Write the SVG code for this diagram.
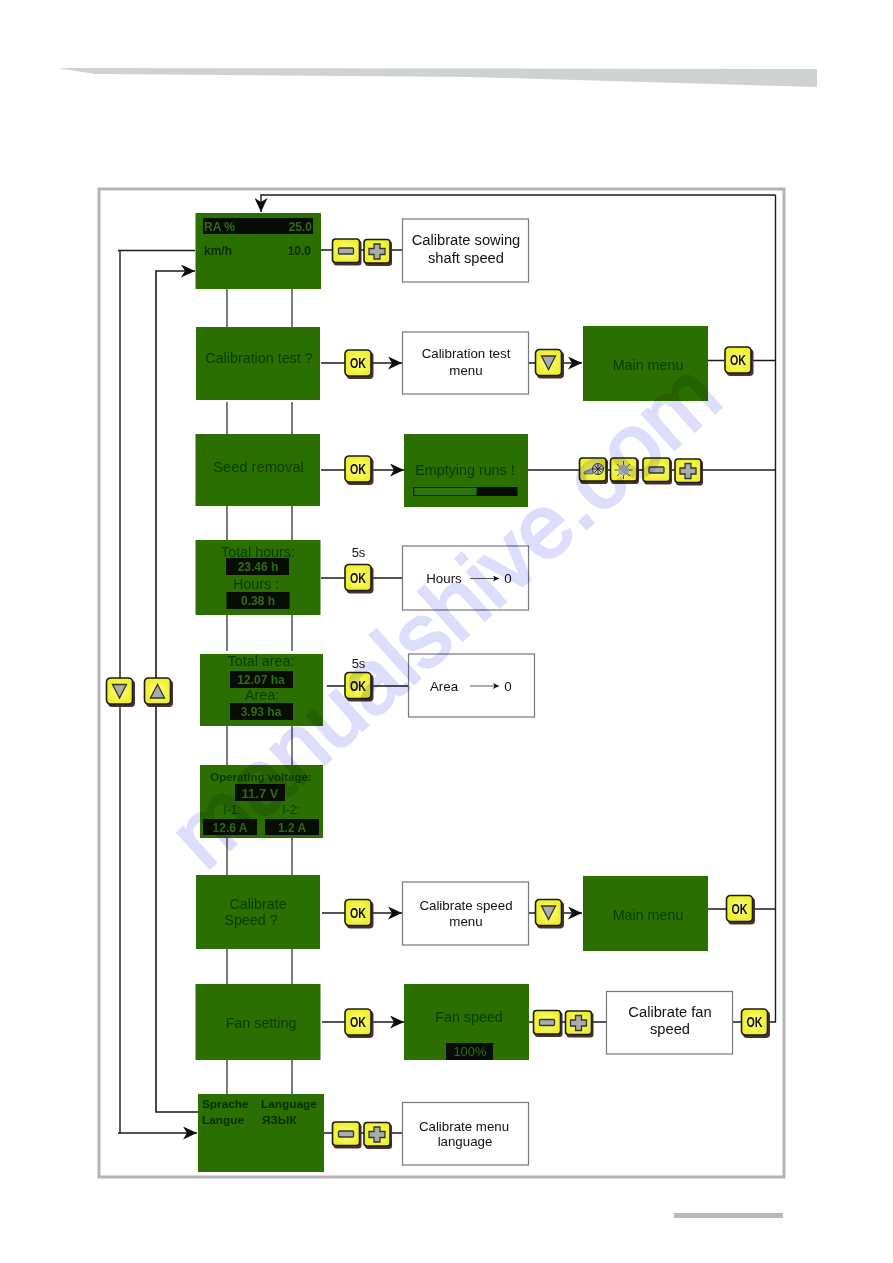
<svg xmlns="http://www.w3.org/2000/svg" width="893" height="1263" viewBox="0 0 893 1263">
<style>
.lcd{fill:#2b6f00}
.box{fill:#fff;stroke:#77777d;stroke-width:1.2}
.t{font-family:"Liberation Sans",Arial,sans-serif;text-anchor:middle;fill:#111}
.w{font-size:14.700px}
.m{font-size:13.300px}
.d{font-size:14.300px;fill:#0d3b02}
.b{font-size:11.500px;font-weight:bold;fill:#0a2e00}
.v{font-size:12px;font-weight:bold;fill:#2f6c14}
.k{fill:#070d05}
.c{fill:none;stroke:#1a1a1a;stroke-width:1.4}
.g{fill:none;stroke:#444;stroke-width:1.4}
.btn{fill:url(#y);stroke:#1c1c14;stroke-width:1.6}
.sh{fill:#4a3230}
.ok{font-family:"Liberation Sans",Arial,sans-serif;font-size:14px;font-weight:bold;text-anchor:middle;fill:#111}
.ic{fill:#a9adaa;stroke:#33352c;stroke-width:1.3}
.wm{font-family:"Liberation Sans",Arial,sans-serif;font-size:90px;fill:#dddefb;stroke:#dddefb;stroke-width:3;mix-blend-mode:multiply}
</style>
<defs>
<radialGradient id="y"><stop offset="0" stop-color="#ffff8c"/><stop offset="1" stop-color="#eef02a"/></radialGradient>
<marker id="a" markerUnits="userSpaceOnUse" markerWidth="15" markerHeight="13" refX="14" refY="6.500" orient="auto"><path d="M0,0 L14,6.500 L0,13 L4,6.500 z" fill="#0c0c0c"/></marker>
<marker id="s" markerUnits="userSpaceOnUse" markerWidth="7" markerHeight="7" refX="6" refY="3" orient="auto"><path d="M0,0 L6,3 L0,6 L1.500,3 z" fill="#111"/></marker>
<g id="bok"><rect class="sh" x="1.500" y="2" width="27" height="27" rx="4"/><rect class="btn" width="26" height="26" rx="4"/><text class="ok" x="13" y="18" textLength="16" lengthAdjust="spacingAndGlyphs">OK</text></g>
<g id="bmin"><rect class="sh" x="1" y="1.500" width="28" height="25" rx="3"/><rect class="btn" width="27" height="23.500" rx="3"/><rect class="ic" x="6" y="9" width="15" height="6" rx="1"/></g>
<g id="bpl"><rect class="sh" x="1" y="1.500" width="27" height="25" rx="3"/><rect class="btn" width="26" height="23.500" rx="3"/><path class="ic" d="M10,4.500h6v4.500h5v6h-5v4.500h-6v-4.500h-5v-6h5z"/></g>
<g id="bdn"><rect class="sh" x="1.500" y="2" width="27" height="27" rx="4"/><rect class="btn" width="26" height="26" rx="4"/><path class="ic" d="M6,6.500H20L13,20z" stroke-width="2"/></g>
<g id="bup"><rect class="sh" x="1.500" y="2" width="27" height="27" rx="4"/><rect class="btn" width="26" height="26" rx="4"/><path class="ic" d="M6,20H20L13,6.500z" stroke-width="2"/></g>
</defs>
<rect width="893" height="1263" fill="#fff"/>
<path d="M58,68 L817,69 V87 L470,77 L95,74 Z" fill="#cfd2d2"/>
<rect x="99" y="189" width="685" height="988" fill="#fff" stroke="#b4b4b4" stroke-width="3"/>
<rect x="674" y="1213" width="109" height="5" fill="#b9b9b9"/>

<g id="connectors">
<path class="c" d="M775.500,195 H261 V212" marker-end="url(#a)"/>
<path class="c" d="M775.500,195 V1022 H768"/>
<path class="c" d="M751,360.500 H775.500 M528,470 H775.500 M751,909 H775.500"/>
<path class="c" d="M195,250.500 H118 M120,250.500 V1133 M118,1133 H197" marker-end="url(#a)"/>
<path class="c" style="stroke-width:1.600" d="M198,1112 H156 V271 H195" marker-end="url(#a)"/>
<path class="g" d="M227,289V327 M292,289V327 M227,402V434 M292,402V434 M227,506V540 M292,506V540 M227,615V651 M292,615V651 M227,726V765 M292,726V765 M227,838V875 M292,838V875 M227,949V984 M292,949V984 M227,1060V1094 M292,1060V1094"/>
<path class="c" d="M321,250H403"/>
<path class="c" d="M321,363H402" marker-end="url(#a)"/>
<path class="c" d="M321,470H404" marker-end="url(#a)"/>
<path class="c" d="M321,578H403 M327,686H409"/>
<path class="c" d="M322,913H402" marker-end="url(#a)"/>
<path class="c" d="M322,1022H404" marker-end="url(#a)"/>
<path class="c" d="M324,1133H403"/>
<path class="c" d="M529,363H582" marker-end="url(#a)"/>
<path class="c" d="M529,913H582" marker-end="url(#a)"/>
<path class="c" d="M708,360.500H724 M708,909H726 M529,1022H606 M732,1022H742"/>
</g>

<g id="n-ra"><rect class="lcd" x="195.500" y="213" width="125.500" height="76"/><rect class="k" x="203" y="218" width="110" height="16"/><text class="t v" style="text-anchor:start" x="204" y="231">RA %</text><text class="t v" style="text-anchor:end" x="312" y="231">25.0</text><text class="t b" style="text-anchor:start;font-size:12px" x="204" y="255">km/h</text><text class="t b" style="text-anchor:end;font-size:12px" x="311" y="255">10.0</text></g>
<g id="n-btn1"><use href="#bmin" x="332.500" y="239"/><use href="#bpl" x="364" y="239.500"/></g>
<g id="n-cal1"><rect class="box" x="402.500" y="219" width="126" height="63"/><text class="t w" x="466" y="245">Calibrate sowing</text><text class="t w" x="466" y="263">shaft speed</text></g>

<g id="n-caltest"><rect class="lcd" x="196" y="327" width="124" height="73"/><text class="t d" x="259" y="363">Calibration test ?</text></g>
<g id="n-ok1"><use href="#bok" x="345" y="350"/></g>
<g id="n-ctm"><rect class="box" x="402.500" y="332" width="126" height="62"/><text class="t m" x="466" y="358">Calibration test</text><text class="t m" x="466" y="375">menu</text></g>
<g id="n-dn1"><use href="#bdn" x="535.500" y="349.500"/></g>
<g id="n-main1"><rect class="lcd" x="583" y="326" width="125" height="75"/><text class="t d" x="648" y="370">Main menu</text></g>
<g id="n-ok2"><use href="#bok" x="725" y="347"/></g>

<g id="n-seed"><rect class="lcd" x="195.500" y="434" width="124.500" height="72"/><text class="t d" style="font-size:14.700px" x="258.500" y="472">Seed removal</text></g>
<g id="n-ok3"><use href="#bok" x="345" y="456"/></g>
<g id="n-empty"><rect class="lcd" x="404" y="434" width="124" height="73"/><text class="t d" x="465" y="475">Emptying runs !</text><rect x="413.500" y="487" width="104" height="9" class="k"/><rect x="414" y="487.500" width="63" height="8" fill="#2f7310" stroke="#0c2a05" stroke-width=".8"/></g>
<g id="n-tools"><rect class="sh" x="580" y="459" width="28" height="25" rx="3"/><rect class="btn" x="579.500" y="458" width="26.500" height="23" rx="3"/><path d="M584,472l9,-4v6h-9z" fill="#8f9fb4" stroke="#444" stroke-width=".6"/><circle cx="598" cy="469" r="5.500" fill="#c8cdb0" stroke="#222" stroke-width=".9"/><path d="M593,469H603M598,464V474M594.500,465.500L601.500,472.500M601.500,465.500L594.500,472.500" stroke="#222" stroke-width=".9"/>
<rect class="sh" x="611" y="459" width="28" height="25" rx="3"/><rect class="btn" x="610.500" y="458" width="26.500" height="23" rx="3"/><path d="M623.500,461V479M614.500,470H632.500M617,464L630,476M630,464L617,476" stroke="#333" stroke-width=".9"/><circle cx="623.500" cy="470" r="5.500" fill="#a9adaa"/>
<use href="#bmin" x="643" y="458"/><use href="#bpl" x="675" y="459"/></g>

<g id="n-hours"><rect class="lcd" x="195.500" y="540" width="125" height="75"/><text class="t d" x="258" y="557">Total hours:</text><rect class="k" x="226" y="558" width="63" height="17"/><text class="t v" x="258" y="571">23.46 h</text><text class="t d" x="256" y="589">Hours :</text><rect class="k" x="226.500" y="592" width="63" height="17"/><text class="t v" x="258" y="605">0.38 h</text></g>
<g id="n-5s1"><text class="t" style="font-size:13px" x="358.500" y="557">5s</text><use href="#bok" x="345" y="564.500"/></g>
<g id="n-hrb"><rect class="box" x="402.500" y="546" width="126" height="64"/><text class="t m" x="444" y="583">Hours</text><path d="M470,578.500H499" stroke="#333" stroke-width=".8" marker-end="url(#s)"/><text class="t m" x="508" y="583">0</text></g>

<g id="n-area"><rect class="lcd" x="200" y="654" width="123" height="72"/><text class="t d" x="261" y="666">Total area:</text><rect class="k" x="230" y="671" width="63" height="17"/><text class="t v" x="261" y="684">12.07 ha</text><text class="t d" x="262" y="700">Area:</text><rect class="k" x="230" y="703" width="63" height="17"/><text class="t v" x="261" y="716">3.93 ha</text></g>
<g id="n-5s2"><text class="t" style="font-size:13px" x="358.500" y="668">5s</text><use href="#bok" x="345" y="672.500"/></g>
<g id="n-arb"><rect class="box" x="408.500" y="654" width="126" height="63"/><text class="t m" x="444" y="690.500">Area</text><path d="M470,686H499" stroke="#333" stroke-width=".8" marker-end="url(#s)"/><text class="t m" x="508" y="690.500">0</text></g>

<g id="n-volt"><rect class="lcd" x="200" y="765" width="123" height="73"/><text class="t" style="font-size:11.500px;font-weight:bold;fill:#0d3b02" x="261" y="781">Operating voltage:</text><rect class="k" x="235" y="784" width="50" height="17"/><text class="t v" x="260" y="798" style="font-size:13px">11.7 V</text><text class="t d" style="font-size:12px" x="232" y="814">I-1:</text><text class="t d" style="font-size:12px" x="291" y="814">I-2:</text><rect class="k" x="203" y="819" width="54" height="16"/><text class="t v" x="230" y="832">12.6 A</text><rect class="k" x="265" y="819" width="54" height="16"/><text class="t v" x="292" y="832">1.2 A</text></g>

<g id="n-calsp"><rect class="lcd" x="196" y="875" width="124" height="74"/><text class="t d" x="258" y="909">Calibrate</text><text class="t d" x="251" y="925">Speed ?</text></g>
<g id="n-ok4"><use href="#bok" x="345" y="899.500"/></g>
<g id="n-csm"><rect class="box" x="402.500" y="882" width="126" height="63"/><text class="t m" x="466" y="910">Calibrate speed</text><text class="t m" x="466" y="926">menu</text></g>
<g id="n-dn2"><use href="#bdn" x="535.500" y="899.500"/></g>
<g id="n-main2"><rect class="lcd" x="583" y="876" width="125" height="75"/><text class="t d" x="648" y="920">Main menu</text></g>
<g id="n-ok5"><use href="#bok" x="726.500" y="895.500"/></g>

<g id="n-fan"><rect class="lcd" x="195.500" y="984" width="125" height="76"/><text class="t d" x="261" y="1028">Fan setting</text></g>
<g id="n-ok6"><use href="#bok" x="345" y="1009"/></g>
<g id="n-fsp"><rect class="lcd" x="404" y="984" width="125" height="76"/><text class="t d" x="469" y="1022">Fan speed</text><rect class="k" x="446" y="1043" width="47" height="17"/><text class="t v" style="font-weight:normal;font-size:13px" x="470" y="1056">100%</text></g>
<g id="n-btn2"><use href="#bmin" x="533.500" y="1010.500"/><use href="#bpl" x="565.500" y="1011"/></g>
<g id="n-cfs"><rect class="box" x="606.500" y="991.500" width="126" height="62.500"/><text class="t w" x="670" y="1017">Calibrate fan</text><text class="t w" x="670" y="1034">speed</text></g>
<g id="n-ok7"><use href="#bok" x="741.500" y="1009"/></g>

<g id="n-lang"><rect class="lcd" x="198" y="1094" width="126" height="78"/><text class="t b" style="text-anchor:start;font-size:11.800px" x="202" y="1108">Sprache</text><text class="t b" style="text-anchor:start;font-size:11.800px" x="261" y="1108">Language</text><text class="t b" style="text-anchor:start;font-size:11.800px" x="202" y="1124">Langue</text><text class="t b" style="text-anchor:start;font-size:11.800px" x="262" y="1124">ЯЗЫК</text></g>
<g id="n-btn3"><use href="#bmin" x="332.500" y="1122"/><use href="#bpl" x="364" y="1122.500"/></g>
<g id="n-clm"><rect class="box" x="402.500" y="1102.500" width="126" height="62.500"/><text class="t m" x="464" y="1131">Calibrate menu</text><text class="t m" x="465" y="1146">language</text></g>
<g id="n-nav"><use href="#bdn" x="106.500" y="678"/><use href="#bup" x="144.500" y="678"/></g>
<text class="wm" transform="translate(205,872) rotate(-42)">manualshive.com</text>
</svg>
